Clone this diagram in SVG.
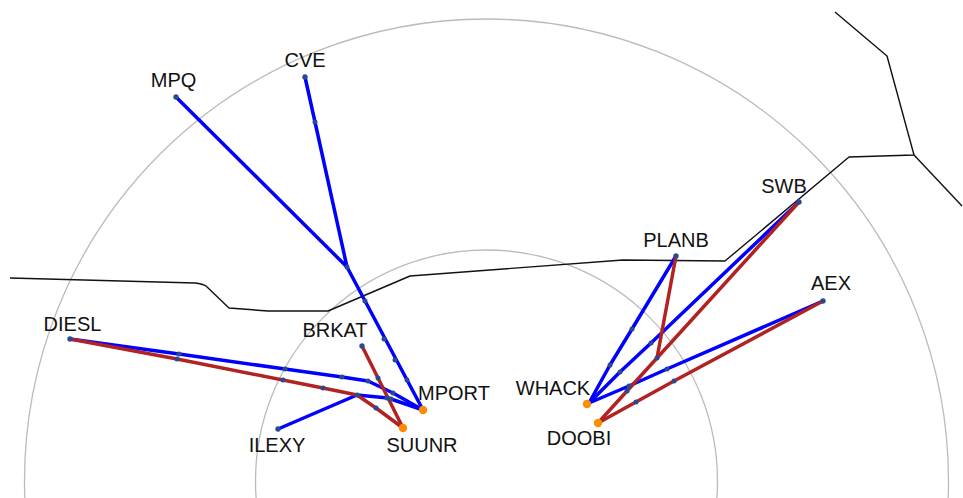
<svg xmlns="http://www.w3.org/2000/svg" width="963" height="498" viewBox="0 0 963 498">
<style>
text{font-family:"Liberation Sans",Arial,sans-serif;font-size:20px;fill:#111;text-anchor:middle}
.ring{fill:none;stroke:#bbb;stroke-width:1.3}
.border{fill:none;stroke:#111;stroke-width:1.4;stroke-linejoin:round}
.b,.r{fill:none;stroke-width:3.5;stroke-linejoin:round;stroke-linecap:round}
.b{stroke:#0000ff}
.r{stroke:#b22222}
.w{fill:#2a4a8f}
.o{fill:#ff8c00}
</style>
<rect width="963" height="498" fill="#fff"/>
<g id="rings">
<circle class="ring" cx="486.5" cy="481" r="462"/>
<circle class="ring" cx="486.5" cy="481" r="231"/>
</g>
<g id="borders">
<path class="border" d="M10 278L195 283Q203 284 206 286L229 308L268 311L328 311L410 276L623 260L725 261L849 157L914 155L887 56L835 12"/>
<path class="border" d="M914 155L962 206"/>
</g>
<g id="connectors">
<path class="b" d="M176 97L347 267L423 410"/>
<path class="b" d="M305 77L315 122L347 267"/>
<path class="b" d="M70 339L179 354L285 369L342 377L368 381L393 393L423 410"/>
<path class="b" d="M278 429L357 395L388 398L423 410"/>
<path class="r" d="M70 339L177 359L323 388L357 395L376 408L403 428"/>
<path class="r" d="M362 346L378 378L403 428"/>
<path class="b" d="M676 256L632 329L610 365L589 403"/>
<path class="b" d="M799 202L651 343L620 372L589 403"/>
<path class="b" d="M823 301L667 369L629 386L589 403"/>
<path class="r" d="M799 202L657 358L627 391L598 423"/>
<path class="r" d="M676 256L657 358"/>
<path class="r" d="M823 301L674 381L636 402L598 423"/>
</g>
<g id="waypoints" class="w">
<circle cx="315" cy="122" r="2.5"/><circle cx="347" cy="267" r="2.5"/><circle cx="365" cy="301" r="2.5"/><circle cx="384" cy="339" r="2.5"/><circle cx="395" cy="360" r="2.5"/><circle cx="407" cy="380" r="2.5"/>
<circle cx="179" cy="354" r="2.5"/><circle cx="177" cy="359" r="2.5"/><circle cx="283" cy="380" r="2.5"/><circle cx="285" cy="369" r="2.5"/><circle cx="342" cy="377" r="2.5"/><circle cx="368" cy="381" r="2.5"/><circle cx="323" cy="388" r="2.5"/><circle cx="357" cy="395" r="2.5"/><circle cx="376" cy="408" r="2.5"/><circle cx="378" cy="378" r="2.5"/><circle cx="393" cy="393" r="2.5"/><circle cx="387" cy="398" r="2.5"/><circle cx="391" cy="399" r="2.5"/>
<circle cx="632" cy="329" r="2.5"/><circle cx="610" cy="365" r="2.5"/><circle cx="651" cy="343" r="2.5"/><circle cx="620" cy="372" r="2.5"/><circle cx="657" cy="358" r="2.5"/><circle cx="667" cy="369" r="2.5"/><circle cx="629" cy="386" r="2.5"/><circle cx="627" cy="391" r="2.5"/><circle cx="674" cy="381" r="2.5"/><circle cx="636" cy="402" r="2.5"/>
</g>
<g id="MPQ"><circle class="w" cx="176" cy="97" r="2.7"/><text x="173.500" y="87">MPQ</text></g>
<g id="CVE"><circle class="w" cx="305" cy="77" r="2.7"/><text x="305" y="67">CVE</text></g>
<g id="DIESL"><circle class="w" cx="70" cy="339" r="2.7"/><text x="72.500" y="331">DIESL</text></g>
<g id="BRKAT"><circle class="w" cx="362" cy="346" r="2.7"/><text x="335" y="337">BRKAT</text></g>
<g id="ILEXY"><circle class="w" cx="278" cy="429" r="2.7"/><text x="277" y="452">ILEXY</text></g>
<g id="MPORT"><circle class="o" cx="423" cy="410" r="4.200"/><text x="454" y="400">MPORT</text></g>
<g id="SUUNR"><circle class="o" cx="403" cy="428" r="4.200"/><text x="422" y="452">SUUNR</text></g>
<g id="PLANB"><circle class="w" cx="676" cy="256" r="2.7"/><text x="676" y="247">PLANB</text></g>
<g id="SWB"><circle class="w" cx="799" cy="202" r="2.7"/><text x="784" y="193">SWB</text></g>
<g id="AEX"><circle class="w" cx="823" cy="301" r="2.7"/><text x="831" y="290">AEX</text></g>
<g id="WHACK"><circle class="o" cx="587" cy="404" r="4.200"/><text x="553" y="395">WHACK</text></g>
<g id="DOOBI"><circle class="o" cx="598" cy="423" r="4.200"/><text x="579" y="445">DOOBI</text></g>
</svg>
